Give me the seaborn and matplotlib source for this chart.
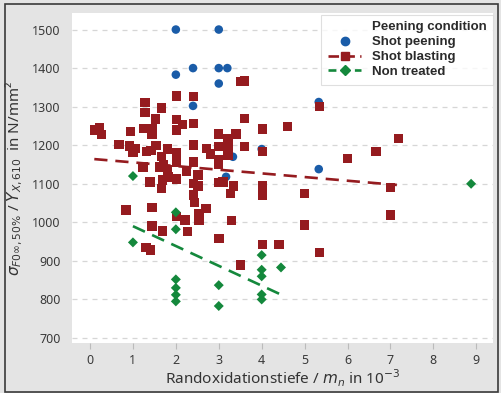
import matplotlib
matplotlib.use("Agg")
import matplotlib.pyplot as plt
import pandas as pd
import seaborn as sns
from matplotlib.lines import Line2D
from matplotlib.patches import Rectangle

# Shot peening (blue circles)
peen_x = [2.0, 3.0, 2.0, 2.4, 3.0, 3.2, 3.0, 2.4, 3.33, 3.17, 4.0, 5.33, 5.33]
peen_y = [1500, 1500, 1383, 1400, 1400, 1400, 1360, 1302, 1170, 1118, 1190, 1312, 1138]

# Shot blasting (red squares)
blast_x = [0.1, 0.22, 0.27, 0.68, 0.84, 0.92, 0.95, 1.0, 1.05,
           1.23, 1.24, 1.28, 1.28, 1.3, 1.32, 1.4, 1.41, 1.42, 1.44, 1.44, 1.44, 1.44,
           1.52, 1.54, 1.63, 1.67, 1.67, 1.67, 1.69, 1.69, 1.71, 1.8, 1.8, 1.83,
           2.02, 2.02, 2.02, 2.02, 2.02, 2.02, 2.02, 2.16, 2.21, 2.25, 2.27,
           2.41, 2.41, 2.41, 2.41, 2.41, 2.41, 2.43, 2.52, 2.52, 2.54, 2.54,
           2.72, 2.7, 2.81, 3.0, 3.0, 3.0, 3.0, 3.0, 3.01, 3.1,
           3.22, 3.22, 3.22, 3.28, 3.3, 3.34, 3.4, 3.5, 3.5, 3.6, 3.6, 3.6,
           4.02, 4.02, 4.02, 4.02, 4.02, 4.4, 4.6, 5.0, 5.0, 5.35, 5.35,
           6.0, 6.66, 7.0, 7.0, 7.19]
blast_y = [1240, 1245, 1228, 1202, 1032, 1198, 1235, 1181, 1192,
           1143, 1244, 1311, 1285, 934, 1183, 1105, 928, 1186, 1242, 1228, 1039, 990,
           1268, 1200, 1143, 1296, 1170, 1088, 1110, 977, 1150, 1190, 1136, 1118,
           1328, 1266, 1240, 1180, 1157, 1112, 1015, 1253, 1006, 1133, 976,
           1326, 1257, 1201, 1157, 1101, 1071, 1051, 1123, 1094, 1023, 1006,
           1192, 1036, 1177, 1229, 1196, 1162, 1150, 1103, 958, 1105,
           1218, 1196, 1175, 1075, 1004, 1094, 1229, 1365, 889, 1367, 1270, 1196,
           1242, 1183, 1094, 1071, 943, 943, 1248, 1075, 993, 1300, 921,
           1166, 1183, 1090, 1019, 1218]

# Non treated (green diamonds)
none_x = [1.0, 1.0, 2.0, 2.0, 2.0, 2.0, 2.0, 2.0, 3.0, 3.0,
          4.0, 4.0, 4.0, 4.0, 4.0, 4.45, 8.88]
none_y = [1120, 948, 1026, 982, 852, 830, 812, 795, 837, 783,
          915, 877, 860, 813, 800, 883, 1100]

# fitted trend lines (end points)
blast_fit_x = [0.1, 7.15]
blast_fit_y = [1164, 1097]
none_fit_x = [1.0, 4.5]
none_fit_y = [990, 810]

x_ticks = list(range(0, 10))
y_ticks = list(range(700, 1600, 100))

RED = "#951b1f"
BLUE = "#1a5ca8"
GREEN = "#14883c"

sns.set_style("white")
plt.rcParams["font.family"] = ["Noto Sans", "DejaVu Sans"]

fig = plt.figure(figsize=(5.01, 3.93), dpi=100, facecolor="#e4e4e4")
ax = fig.add_axes([0.1437, 0.1272, 0.8403, 0.8398])
ax.set_facecolor("white")

df_peen = pd.DataFrame({"x": peen_x, "y": peen_y})
df_blast = pd.DataFrame({"x": blast_x, "y": blast_y})
df_none = pd.DataFrame({"x": none_x, "y": none_y})

sns.scatterplot(data=df_peen, x="x", y="y", ax=ax, color=BLUE, marker="o",
                s=38, edgecolor="none", legend=False, zorder=3)
sns.scatterplot(data=df_blast, x="x", y="y", ax=ax, color=RED, marker="s",
                s=46, edgecolor="none", legend=False, zorder=4)
sns.scatterplot(data=df_none, x="x", y="y", ax=ax, color=GREEN, marker="D",
                s=26, edgecolor="none", legend=False, zorder=5)

sns.lineplot(x=blast_fit_x, y=blast_fit_y, ax=ax, color=RED, lw=1.9, zorder=6)
ax.lines[-1].set_dashes([5, 3])
sns.lineplot(x=none_fit_x, y=none_fit_y, ax=ax, color=GREEN, lw=1.9, zorder=6)
ax.lines[-1].set_dashes([5, 3])

ax.set_xlim(-0.42, 9.39)
ax.set_ylim(687, 1543)
ax.set_xticks(x_ticks)
ax.set_yticks(y_ticks)
ax.yaxis.grid(True, color="#d6d6d6", ls=(0, (4, 4)), lw=0.9)
ax.xaxis.grid(False)
for s in ax.spines.values():
    s.set_visible(False)
ax.tick_params(axis="y", length=5, color="#d6d6d6", labelsize=9, labelcolor="#3a3a3a", pad=3)
ax.tick_params(axis="x", length=4, color="#bbbbbb", labelsize=9, labelcolor="#3a3a3a", pad=4,
               direction="out", bottom=True)

ax.set_xlabel(r"Randoxidationstiefe / $m_n$ in 10$^{-3}$",
              fontsize=11, color="#333333", labelpad=0)
ax.set_ylabel(r"$\sigma_{F0\infty,50\%}$ / $Y_{X,610}$  in N/mm²",
              fontsize=11, color="#333333", labelpad=5)

handles = [
    Line2D([], [], linestyle="none", marker=None),
    Line2D([], [], color=BLUE, marker="o", markersize=6, linestyle="none"),
    Line2D([], [], color=RED, marker="s", markersize=6, lw=1.9, dashes=[4, 2]),
    Line2D([], [], color=GREEN, marker="D", markersize=5, lw=1.9, dashes=[3, 2]),
]
labels = ["Peening condition", "Shot peening", "Shot blasting", "Non treated"]
leg = ax.legend(handles, labels, loc="upper right", bbox_to_anchor=(1.0, 0.995),
                borderaxespad=0, frameon=True, fancybox=False, edgecolor="#d8d8d8",
                handlelength=2.5, handletextpad=0.8, labelspacing=0.2,
                borderpad=0.5, prop={"family": "Liberation Sans", "weight": "bold", "size": 9.5})
leg.get_frame().set_linewidth(0.8)
for t in leg.get_texts():
    t.set_color("#2a2a2a")

fig.patches.append(Rectangle((0.01, 0.003), 0.984, 0.987, transform=fig.transFigure,
                             fill=False, edgecolor="#3a3a3a", lw=1.2))

fig.savefig("out.png", dpi=100, facecolor=fig.get_facecolor())
